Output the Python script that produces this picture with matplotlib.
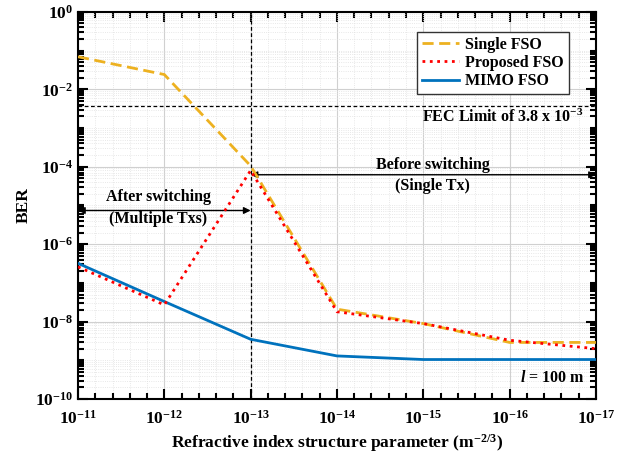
import numpy as np
import matplotlib
matplotlib.use("Agg")
import matplotlib.pyplot as plt
from matplotlib.ticker import FixedLocator, NullFormatter, FuncFormatter

plt.rcParams['font.family'] = ['Liberation Serif', 'DejaVu Serif']
plt.rcParams['font.weight'] = 'bold'
plt.rcParams['mathtext.fontset'] = 'custom'
plt.rcParams['mathtext.rm'] = 'Liberation Serif:bold'
plt.rcParams['mathtext.it'] = 'Liberation Serif:italic:bold'
plt.rcParams['mathtext.bf'] = 'Liberation Serif:bold'

# refractive index structure parameter Cn^2
cn2 = [1e-11, 1e-12, 1e-13, 1e-14, 1e-15, 1e-16, 1e-17]
ber_single = [6.9e-2, 2.4e-2, 1.05e-4, 2.1e-8, 8.9e-9, 2.9e-9, 2.9e-9]
ber_proposed = [2.6e-7, 2.7e-8, 8.0e-5, 1.8e-8, 8.9e-9, 3.3e-9, 2.0e-9]
ber_mimo = [3.2e-7, 3.3e-8, 3.5e-9, 1.3e-9, 1.05e-9, 1.05e-9, 1.05e-9]
fec_limit = 3.8e-3
switch_point = 1e-13

fig = plt.figure(figsize=(6.24, 4.54), dpi=100)
ax = fig.add_axes([0.125, 0.121, 0.830, 0.853])

ax.plot(cn2, ber_single, '--', color='#EDB120', lw=2, dashes=(4, 2), label='Single FSO', zorder=4)
ax.plot(cn2, ber_proposed, ':', color='#FF0000', lw=2, label='Proposed FSO', zorder=5)
ax.plot(cn2, ber_mimo, '-', color='#0072BD', lw=2, label='MIMO FSO', zorder=3)

ax.axhline(fec_limit, color='k', ls='--', lw=0.9, dashes=(3, 2), zorder=2)
ax.axvline(switch_point, color='k', ls='--', lw=0.9, dashes=(3, 2), zorder=2)

ax.set_xscale('log')
ax.set_yscale('log')
ax.set_xlim(1e-11, 1e-17)
ax.set_ylim(1e-10, 1)

# ticks
x_major = [10.0 ** e for e in range(-11, -18, -1)]
x_minor = [10.0 ** (e / 5) for e in range(-85, -54) if e % 5 != 0]
y_major = [10.0 ** e for e in range(0, -11, -2)]
y_minor = [k * 10.0 ** e for e in range(-10, 0) for k in range(1, 10)
           if not (k == 1 and e % 2 == 0)]
ax.xaxis.set_major_locator(FixedLocator(x_major))
ax.xaxis.set_minor_locator(FixedLocator(x_minor))
ax.yaxis.set_major_locator(FixedLocator(y_major))
ax.yaxis.set_minor_locator(FixedLocator(y_minor))
fmt = FuncFormatter(lambda v, p: r'$\mathbf{10^{%d}}$' % int(round(np.log10(v))))
ax.xaxis.set_major_formatter(fmt)
ax.yaxis.set_major_formatter(fmt)
ax.xaxis.set_minor_formatter(NullFormatter())
ax.yaxis.set_minor_formatter(NullFormatter())
ax.tick_params(which='both', direction='in', top=True, right=True, labelsize=12.5, width=1.5)
ax.tick_params(axis='x', which='major', pad=8)
ax.tick_params(which='major', length=7)
ax.tick_params(which='minor', length=4)
for s in ax.spines.values():
    s.set_linewidth(1.5)

ax.grid(which='major', color='#d0d0d0', lw=0.8, ls='-')
ax.grid(which='minor', color='#e0e0e0', lw=0.6, ls=':')
ax.set_axisbelow(True)

ax.set_xlabel(r'Refractive index structure parameter (m$^{\mathbf{-2/3}}$)', fontsize=12.5,
              fontweight='bold', labelpad=3)
ax.set_ylabel('BER', fontsize=12.5, fontweight='bold', labelpad=2)

# switching regions
ax.annotate('', xy=(1e-17, 6.2e-5), xytext=(switch_point, 6.2e-5),
            arrowprops=dict(arrowstyle='<|-|>', color='k', lw=1, mutation_scale=10, shrinkA=0, shrinkB=0))
ax.annotate('', xy=(1e-11, 7.4e-6), xytext=(switch_point, 7.4e-6),
            arrowprops=dict(arrowstyle='<|-|>', color='k', lw=1, mutation_scale=10, shrinkA=0, shrinkB=0))
ax.text(10 ** -15.11, 1.12e-4, 'Before switching', ha='center', va='center', fontsize=11.5)
ax.text(10 ** -15.11, 3.1e-5, '(Single Tx)', ha='center', va='center', fontsize=11.5)
ax.text(10 ** -11.93, 1.7e-5, 'After switching', ha='center', va='center', fontsize=11.5)
ax.text(10 ** -11.93, 4.5e-6, '(Multiple Txs)', ha='center', va='center', fontsize=11.5)
ax.text(10 ** -16.85, 1.9e-3, r'FEC Limit of 3.8 x 10$^{\mathbf{-3}}$', ha='right', va='center', fontsize=11.5)
ax.text(10 ** -16.87, 3.5e-10, r'$\mathit{l}$ = 100 m', ha='right', va='center', fontsize=11.5)

leg = ax.legend(loc='upper right', bbox_to_anchor=(0.963, 0.969), fontsize=11.5, handlelength=2.3,
                fancybox=False, framealpha=1, edgecolor='#333333', borderpad=0.3,
                labelspacing=0.15, handletextpad=0.4)
leg.get_frame().set_linewidth(1)

fig.savefig('out.png', dpi=100)
